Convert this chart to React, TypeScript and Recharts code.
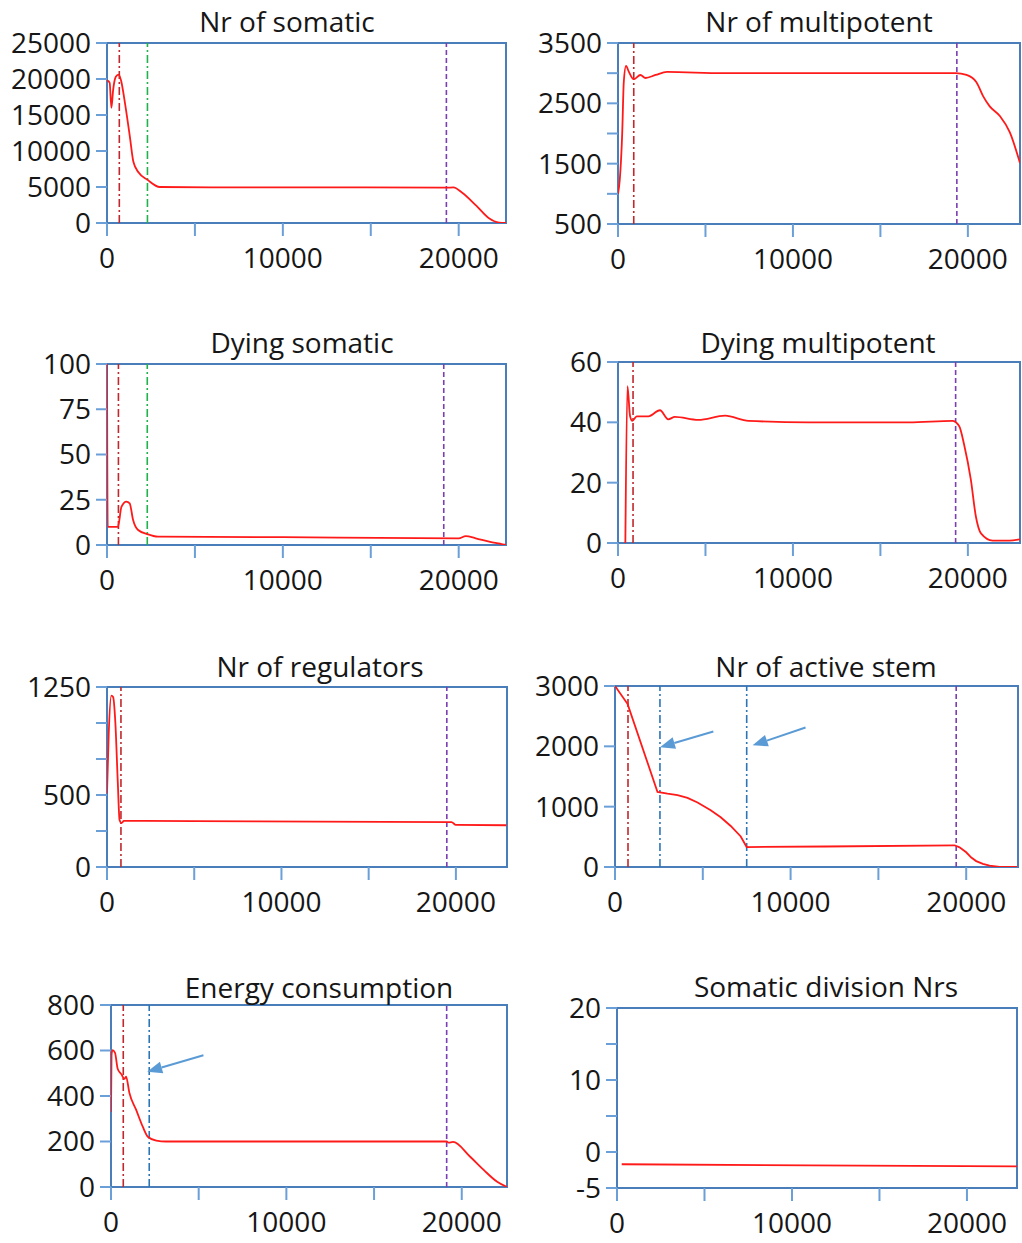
import React from "react";
import { LineChart, Line, XAxis, YAxis, ReferenceLine, ReferenceArea } from "recharts";

const FONT = "'Open Sans', sans-serif";
const BOX_BLUE = "#4a7ebb";
const TICK_BLUE = "#6a9fd8";
const SERIES_RED = "#ff1a1a";
const ARROW_BLUE = "#5b9bd5";

const X_TICKS = [0, 5000, 10000, 15000, 20000];

// --- series data (time step -> value) ---
const somaticT = [0, 150, 250, 350, 500, 650, 800, 1000, 1300, 1500, 1800, 2300, 3000, 6000, 12000, 19300, 19700, 20200, 21000, 21700, 22300, 22700];
const somaticV = [19800, 19500, 16000, 18500, 20300, 20600, 19800, 17000, 12000, 8500, 7000, 6000, 5000, 4950, 4950, 4900, 4950, 4200, 2400, 700, 50, 0];

const multiT = [0, 100, 240, 330, 460, 610, 900, 1280, 1570, 2150, 2800, 6000, 12000, 19300, 19920, 20490, 20870, 21250, 21830, 22400, 22980];
const multiV = [1000, 1230, 2000, 2850, 3120, 3030, 2900, 2970, 2920, 2970, 3020, 3000, 3000, 3000, 2970, 2850, 2620, 2450, 2290, 2020, 1510];

const dyingSomT = [0, 40, 620, 820, 1100, 1290, 1480, 1770, 2290, 2900, 10000, 20000, 20400, 20970, 21730, 22490, 22690];
const dyingSomV = [100, 10, 10, 21, 24, 23, 14, 8.3, 6, 4.6, 4.3, 3.7, 4.9, 3.7, 1.8, 0.4, 0];

const dyingMultiT = [420, 540, 690, 820, 1070, 1740, 2400, 2870, 3250, 4590, 6120, 7460, 10900, 16630, 19120, 19500, 19790, 20170, 20460, 20750, 21420, 22370, 22980];
const dyingMultiV = [0, 52, 42, 40.5, 42, 42, 44, 41, 41.8, 40.8, 42.2, 40.5, 40, 40, 40.5, 38.8, 32.5, 21, 8.7, 3.2, 0.8, 0.8, 1.2];

const regT = [0, 100, 250, 350, 480, 620, 720, 830, 970, 5000, 12000, 19750, 20000, 22900];
const regV = [510, 930, 1190, 1180, 1000, 583, 326, 305, 320, 318, 315, 312, 292, 290];

const stemT = [0, 720, 2420, 2990, 3560, 4130, 4700, 5450, 6020, 6590, 7160, 7500, 12000, 19340, 19620, 20000, 20290, 20570, 20950, 21330, 21900, 22900];
const stemV = [3000, 2700, 1244, 1215, 1192, 1145, 1070, 942, 825, 680, 506, 331, 340, 360, 325, 244, 157, 98, 52, 23, 0, 0];

const energyT = [0, 30, 80, 230, 380, 600, 760, 860, 1050, 1430, 1810, 2100, 2580, 3150, 10000, 19140, 19250, 19500, 20480, 21250, 22020, 22580];
const energyV = [330, 580, 602, 590, 520, 495, 475, 485, 413, 340, 265, 221, 204, 200, 200, 200, 195, 198, 133, 75, 23, 0];

const divT = [270, 11000, 22860];
const divV = [-1.7, -1.85, -2.0];

// --- vertical event markers (x positions) ---
const somaticMarks = { red: [700], green: [2300], blue: [] as number[], purple: [19300] };
const multiMarks = { red: [900], green: [] as number[], blue: [] as number[], purple: [19370] };
const dyingSomMarks = { red: [650], green: [2290], blue: [] as number[], purple: [19150] };
const dyingMultiMarks = { red: [860], green: [] as number[], blue: [] as number[], purple: [19300] };
const regMarks = { red: [800], green: [] as number[], blue: [] as number[], purple: [19480] };
const stemMarks = { red: [740], green: [] as number[], blue: [2560, 7500], purple: [19430] };
const energyMarks = { red: [700], green: [] as number[], blue: [2180], purple: [19140] };
const noMarks = { red: [] as number[], green: [] as number[], blue: [] as number[], purple: [] as number[] };

// arrows: [tailX, tailY, headX, headY]
const stemArrows = [
  [5600, 2246, 2560, 1984],
  [10850, 2311, 7840, 2016],
];
const energyArrows = [[5270, 579, 2063, 507]];

const zip = (t: number[], v: number[]) => t.map((x, i) => ({ t: x, v: v[i] }));

type Panel = {
  title: string;
  data: { t: number; v: number }[];
  col: number;
  box: { l: number; r: number; t: number; b: number };
  titleX: number;
  titleY: number;
  xMax: number;
  yDomain: [number, number];
  yTicks: number[];
  yLabels: number[];
  marks: typeof noMarks;
  arrows: number[][];
  curve: "monotone" | "linear";
};

const panels: Panel[] = [
  {
    title: "Nr of somatic", data: zip(somaticT, somaticV), col: 0,
    box: { l: 107, r: 506, t: 43, b: 223 }, titleX: 287, titleY: 32, xMax: 22690,
    yDomain: [0, 25000], yTicks: [0, 5000, 10000, 15000, 20000, 25000],
    yLabels: [0, 5000, 10000, 15000, 20000, 25000], marks: somaticMarks, arrows: [], curve: "monotone",
  },
  {
    title: "Nr of multipotent", data: zip(multiT, multiV), col: 510,
    box: { l: 618, r: 1020, t: 43, b: 224 }, titleX: 819, titleY: 32, xMax: 22980,
    yDomain: [500, 3500], yTicks: [500, 1000, 1500, 2000, 2500, 3000, 3500],
    yLabels: [500, 1500, 2500, 3500], marks: multiMarks, arrows: [], curve: "monotone",
  },
  {
    title: "Dying somatic", data: zip(dyingSomT, dyingSomV), col: 0,
    box: { l: 107, r: 506, t: 364, b: 545 }, titleX: 302, titleY: 353, xMax: 22690,
    yDomain: [0, 100], yTicks: [0, 25, 50, 75, 100],
    yLabels: [0, 25, 50, 75, 100], marks: dyingSomMarks, arrows: [], curve: "monotone",
  },
  {
    title: "Dying multipotent", data: zip(dyingMultiT, dyingMultiV), col: 510,
    box: { l: 618, r: 1020, t: 362, b: 543 }, titleX: 818, titleY: 353, xMax: 22980,
    yDomain: [0, 60], yTicks: [0, 20, 40, 60],
    yLabels: [0, 20, 40, 60], marks: dyingMultiMarks, arrows: [], curve: "monotone",
  },
  {
    title: "Nr of regulators", data: zip(regT, regV), col: 0,
    box: { l: 107, r: 507, t: 687, b: 867 }, titleX: 320, titleY: 677, xMax: 22930,
    yDomain: [0, 1250], yTicks: [0, 250, 500, 750, 1000, 1250],
    yLabels: [0, 500, 1250], marks: regMarks, arrows: [], curve: "monotone",
  },
  {
    title: "Nr of active stem", data: zip(stemT, stemV), col: 510,
    box: { l: 615, r: 1018, t: 686, b: 867 }, titleX: 826, titleY: 677, xMax: 22950,
    yDomain: [0, 3000], yTicks: [0, 1000, 2000, 3000],
    yLabels: [0, 1000, 2000, 3000], marks: stemMarks, arrows: stemArrows, curve: "linear",
  },
  {
    title: "Energy consumption", data: zip(energyT, energyV), col: 0,
    box: { l: 111, r: 507, t: 1005, b: 1187 }, titleX: 319, titleY: 998, xMax: 22580,
    yDomain: [0, 800], yTicks: [0, 200, 400, 600, 800],
    yLabels: [0, 200, 400, 600, 800], marks: energyMarks, arrows: energyArrows, curve: "monotone",
  },
  {
    title: "Somatic division Nrs", data: zip(divT, divV), col: 510,
    box: { l: 617, r: 1017, t: 1008, b: 1188 }, titleX: 826, titleY: 997, xMax: 22860,
    yDomain: [-5, 20], yTicks: [-5, 0, 5, 10, 15, 20],
    yLabels: [-5, 0, 10, 20], marks: noMarks, arrows: [], curve: "linear",
  },
];

const ArrowShape = (props: any) => {
  const { x1, y1, x2, y2 } = props;
  const a = Math.atan2(y2 - y1, x2 - x1);
  const len = 15;
  const w = 6;
  const bx = x2 - len * Math.cos(a);
  const by = y2 - len * Math.sin(a);
  const p1 = `${bx + w * Math.sin(a)},${by - w * Math.cos(a)}`;
  const p2 = `${bx - w * Math.sin(a)},${by + w * Math.cos(a)}`;
  return (
    <g>
      <line x1={x1} y1={y1} x2={bx} y2={by} stroke={ARROW_BLUE} strokeWidth={2} />
      <polygon points={`${x2},${y2} ${p1} ${p2}`} fill={ARROW_BLUE} />
    </g>
  );
};

const TOP_PAD = 26;
const X_AXIS_H = 60;

function PanelChart({ p }: { p: Panel }) {
  const width = p.box.r + 2 - p.col;
  const height = TOP_PAD + (p.box.b - p.box.t) + X_AXIS_H;
  const tickStyle = { fontFamily: FONT, fontSize: 28, fill: "#161616" };
  return (
    <div style={{ position: "absolute", left: p.col, top: p.box.t - TOP_PAD }}>
      <LineChart width={width} height={height} data={p.data} margin={{ top: TOP_PAD, right: 2, left: 0, bottom: 0 }}>
        <XAxis
          dataKey="t"
          type="number"
          domain={[0, p.xMax]}
          ticks={X_TICKS}
          interval={0}
          allowDataOverflow
          height={X_AXIS_H}
          axisLine={false}
          tickLine={{ stroke: TICK_BLUE, strokeWidth: 2 }}
          tickSize={13}
          tickMargin={12}
          tick={tickStyle}
          tickFormatter={(v: number) => (v % 10000 === 0 ? String(v) : "")}
        />
        <YAxis
          type="number"
          domain={p.yDomain}
          ticks={p.yTicks}
          interval={0}
          allowDataOverflow
          width={p.box.l - p.col}
          axisLine={false}
          tickLine={{ stroke: TICK_BLUE, strokeWidth: 2 }}
          tickSize={11}
          tickMargin={5}
          tick={tickStyle}
          tickFormatter={(v: number) => (p.yLabels.includes(v) ? String(v) : "")}
        />
        <ReferenceArea
          x1={0}
          x2={p.xMax}
          y1={p.yDomain[0]}
          y2={p.yDomain[1]}
          fill="none"
          fillOpacity={0}
          stroke={BOX_BLUE}
          strokeWidth={2}
        />
        {p.marks.red.map((x) => (
          <ReferenceLine key={`r${x}`} x={x} stroke="#c0282d" strokeWidth={1.6} strokeDasharray="8 3 2 3" />
        ))}
        {p.marks.green.map((x) => (
          <ReferenceLine key={`g${x}`} x={x} stroke="#22b24c" strokeWidth={1.6} strokeDasharray="8 3 2 3" />
        ))}
        {p.marks.blue.map((x) => (
          <ReferenceLine key={`b${x}`} x={x} stroke="#2e75b6" strokeWidth={1.6} strokeDasharray="8 3 2 3" />
        ))}
        {p.marks.purple.map((x) => (
          <ReferenceLine key={`p${x}`} x={x} stroke="#7a3fb0" strokeWidth={1.6} strokeDasharray="5 3" />
        ))}
        <Line
          type={p.curve}
          dataKey="v"
          stroke={SERIES_RED}
          strokeWidth={1.8}
          dot={false}
          isAnimationActive={false}
        />
        {p.arrows.map((a, i) => (
          <ReferenceLine
            key={`a${i}`}
            segment={[{ x: a[0], y: a[1] }, { x: a[2], y: a[3] }]}
            shape={ArrowShape}
          />
        ))}
      </LineChart>
    </div>
  );
}

export default function App() {
  return (
    <div style={{ position: "relative", width: 1022, height: 1243, background: "#fff", overflow: "hidden" }}>
      <style>{"body{margin:0}"}</style>
      {panels.map((p) => (
        <PanelChart key={p.title} p={p} />
      ))}
      <svg width={1022} height={1243} style={{ position: "absolute", left: 0, top: 0, pointerEvents: "none" }}>
        {panels.map((p) => (
          <text
            key={p.title}
            x={p.titleX}
            y={p.titleY}
            textAnchor="middle"
            fontFamily={FONT}
            fontSize={28}
            fill="#161616"
          >
            {p.title}
          </text>
        ))}
      </svg>
    </div>
  );
}
